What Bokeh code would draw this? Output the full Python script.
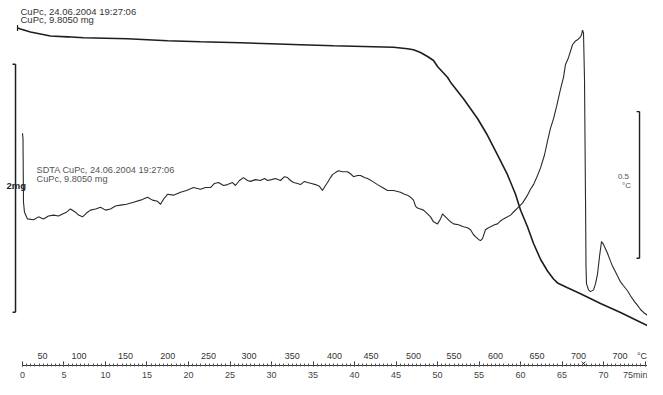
from bokeh.plotting import figure
from bokeh.models import Range1d, LinearAxis, SingleIntervalTicker, Label, ColumnDataSource
from bokeh.embed import file_html
from bokeh.resources import INLINE
from bokeh.core.properties import value

# ---------------- data ----------------
# TGA: time (min) vs sample mass (mg)
tga_time = [-0.60, -0.24, 0.96, 3.37, 5.42, 7.35, 12.65, 17.47, 21.45, 26.27, 29.88, 33.49,
            37.47, 42.29, 44.70, 46.39, 47.11, 47.95, 48.80, 49.52, 50.00, 51.20, 51.57,
            53.13, 54.82, 56.02, 57.23, 58.43, 59.40, 60.00, 60.84, 61.57, 62.41, 63.25,
            63.98, 64.46, 65.66, 67.23, 69.64, 72.05, 74.46, 76.87, 77.23]
tga_mass = [9.813, 9.805, 9.781, 9.749, 9.742, 9.734, 9.726, 9.710, 9.702, 9.694, 9.686, 9.678,
            9.670, 9.662, 9.658, 9.646, 9.638, 9.615, 9.583, 9.551, 9.503, 9.416, 9.376,
            9.242, 9.083, 8.948, 8.789, 8.630, 8.472, 8.345, 8.210, 8.075, 7.948, 7.853,
            7.789, 7.757, 7.718, 7.670, 7.591, 7.519, 7.440, 7.361, 7.345]

# SDTA: time (min) vs temperature difference (°C)
sdta_time = [0.00, 0.06, 0.12, 0.24, 0.60, 1.33, 1.93, 2.53, 3.13, 3.73, 4.34, 4.82, 5.30, 5.78,
             6.39, 6.75, 7.23, 7.71, 8.19, 8.80, 9.40, 10.00, 10.60, 11.20, 11.81, 12.53, 13.37,
             14.22, 15.06, 15.66, 16.27, 16.63, 16.99, 17.47, 18.19, 19.04, 19.76, 20.60, 21.45,
             22.05, 22.65, 23.13, 23.61, 24.22, 24.70, 25.30, 25.66, 26.14, 26.63, 27.11, 27.47,
             28.07, 28.67, 29.16, 29.52, 30.00, 30.48, 31.08, 31.57, 31.93, 32.29, 32.65, 33.13,
             33.49, 33.98, 34.34, 34.82, 35.30, 35.78, 36.14, 36.51, 36.75, 37.11, 37.35, 37.71,
             38.07, 38.55, 39.16, 39.52, 39.88, 40.36, 40.72, 41.20, 41.57, 42.17, 42.77, 43.37,
             43.98, 44.70, 45.54, 46.02, 46.39, 46.75, 47.11, 47.35, 47.59, 47.95, 48.31, 48.80,
             49.16, 49.52, 50.00, 50.36, 50.60, 50.96, 51.45, 51.93, 52.53, 53.13, 53.61, 53.98,
             54.34, 54.70, 54.94, 55.18, 55.42, 55.78, 56.14, 56.39, 56.87, 57.23, 57.59, 57.95,
             58.43, 58.80, 59.28, 59.76, 60.24, 60.84, 61.20, 61.57, 62.05, 62.41, 62.89, 63.25,
             63.61, 63.98, 64.34, 64.82, 65.18, 65.42, 65.78, 66.27, 66.63, 66.87, 67.23, 67.35,
             67.47, 67.59, 67.71, 67.83, 67.89, 67.95, 68.19, 68.43, 68.80, 69.04, 69.28, 69.52,
             69.76, 70.00, 70.48, 70.84, 71.08, 71.45, 71.69, 72.05, 72.41, 72.89, 73.25, 73.73,
             74.10, 74.46, 74.82, 75.30, 75.66, 76.14, 76.51, 76.87, 77.23]
sdta_dT = [0.292, 0.275, 0.057, 0.023, 0.000, -0.003, 0.007, 0.000, 0.010, 0.013, 0.010, 0.017,
           0.023, 0.034, 0.023, 0.013, 0.007, 0.020, 0.030, 0.034, 0.040, 0.030, 0.034, 0.044,
           0.047, 0.050, 0.057, 0.064, 0.074, 0.064, 0.060, 0.050, 0.067, 0.084, 0.081, 0.091,
           0.097, 0.107, 0.101, 0.107, 0.107, 0.121, 0.124, 0.114, 0.117, 0.124, 0.114, 0.131,
           0.141, 0.131, 0.128, 0.134, 0.131, 0.138, 0.131, 0.134, 0.138, 0.131, 0.144, 0.141,
           0.131, 0.124, 0.121, 0.117, 0.128, 0.124, 0.121, 0.117, 0.111, 0.097, 0.114, 0.124,
           0.141, 0.151, 0.158, 0.164, 0.161, 0.161, 0.154, 0.144, 0.148, 0.148, 0.141, 0.138,
           0.128, 0.117, 0.107, 0.097, 0.097, 0.091, 0.084, 0.081, 0.074, 0.064, 0.044, 0.037,
           0.034, 0.030, 0.017, 0.007, -0.010, -0.017, 0.000, 0.017, 0.007, -0.007, -0.017,
           -0.020, -0.027, -0.030, -0.037, -0.054, -0.064, -0.070, -0.074, -0.067, -0.037,
           -0.030, -0.027, -0.020, -0.017, -0.007, 0.000, 0.007, 0.013, 0.027, 0.040, 0.054,
           0.081, 0.101, 0.117, 0.148, 0.174, 0.218, 0.265, 0.309, 0.342, 0.383, 0.443, 0.483,
           0.527, 0.550, 0.594, 0.607, 0.611, 0.621, 0.628, 0.644, 0.634, 0.477, 0.074, -0.161,
           -0.221, -0.242, -0.248, -0.242, -0.221, -0.188, -0.128, -0.077, -0.087, -0.117,
           -0.144, -0.161, -0.181, -0.195, -0.215, -0.228, -0.245, -0.262, -0.282, -0.295,
           -0.309, -0.319, -0.329, -0.339, -0.356, -0.369, -0.379, -0.389]

# temperature scale printed above the time ruler
temp_labels = ["50", "100", "150", "200", "250", "300", "350", "400", "450", "500", "550",
               "600", "650", "700", "700", "°C"]
temp_label_time = [2.4, 6.8, 12.4, 17.5, 22.4, 27.3, 32.5, 37.6, 42.0, 47.1, 52.0, 57.0,
                   62.0, 67.0, 72.0, 75.25]

heating_end_time = 67.6          # "x" mark on the ruler
mass_scale_top, mass_scale_span = 9.52, 2.0      # "2mg" bar
dT_scale_top, dT_scale_span = 0.366, 0.5         # "0.5 °C" bar

FONT = "Liberation Sans"
INK = "#1e1e1e"

# ---------------- figure ----------------
p = figure(frame_width=647, frame_height=365,
           x_range=Range1d(-2.65, 75.30), y_range=Range1d(7.091, 10.035),
           x_axis_type=None, y_axis_type=None,
           output_backend="svg", toolbar_location=None, min_border=0)
p.extra_y_ranges = {"sdta": Range1d(-0.5, 0.745)}
p.outline_line_color = None
p.background_fill_color = "white"
p.border_fill_color = "white"

axis = LinearAxis(ticker=SingleIntervalTicker(interval=5, num_minor_ticks=10), bounds=(0, 75.3))
axis.axis_line_color = "#333333"
axis.axis_line_width = 1
axis.major_tick_line_color = "#333333"
axis.minor_tick_line_color = "#555555"
axis.major_tick_in = 4
axis.major_tick_out = 1
axis.minor_tick_in = 2
axis.minor_tick_out = 1
axis.major_label_standoff = 3
axis.major_label_text_font = FONT
axis.major_label_text_font_size = "9px"
axis.major_label_text_color = "#444444"
axis.major_label_overrides = {75: "75min"}
axis.major_label_text_align = "center"
p.add_layout(axis, "below")

# curves
p.line(tga_time, tga_mass, line_color=INK, line_width=1.6)
p.line(sdta_time, sdta_dT, y_range_name="sdta", line_color="#2a2a2a", line_width=1.1)

# TGA start marker
p.segment(x0=[tga_time[0]], y0=[tga_mass[0] + 0.025], x1=[tga_time[0]], y1=[tga_mass[0] - 0.025],
          line_color=INK, line_width=1.2)

# mass scale bar (2 mg)
mb_x = -0.84
p.segment(x0=[mb_x, mb_x - 0.36, mb_x - 0.36], y0=[mass_scale_top, mass_scale_top, mass_scale_top - mass_scale_span],
          x1=[mb_x, mb_x, mb_x], y1=[mass_scale_top - mass_scale_span, mass_scale_top, mass_scale_top - mass_scale_span],
          line_color=INK, line_width=1.5)

# SDTA scale bar (0.5 °C)
db_x = 74.34
p.segment(x0=[db_x, db_x - 0.36, db_x - 0.36], y0=[dT_scale_top, dT_scale_top, dT_scale_top - dT_scale_span],
          x1=[db_x, db_x, db_x], y1=[dT_scale_top - dT_scale_span, dT_scale_top, dT_scale_top - dT_scale_span],
          line_color=INK, line_width=1.4, y_range_name="sdta")

# end-of-heating mark on the ruler
p.scatter([heating_end_time], [7.108], marker="x", size=5, line_color="#333333", line_width=1)

# temperature labels
src = ColumnDataSource(dict(x=temp_label_time, y=[7.165] * len(temp_labels), t=temp_labels,
                            align=["center"] * (len(temp_labels) - 1) + ["right"]))
p.text(x="x", y="y", text="t", source=src, text_font=value(FONT), text_font_size=value("9px"),
       text_color="#333333", text_align="align", text_baseline="middle")

def lab(x, y, text, size="8.5px", color="#333333", style="normal", align="left"):
    p.add_layout(Label(x=x, y=y, text=text, text_font=FONT, text_font_size=size,
                       text_color=color, text_font_style=style, text_align=align,
                       text_baseline="middle"))

lab(-0.24, 9.945, "CuPc, 24.06.2004 19:27:06", size="9.5px")
lab(-0.24, 9.880, "CuPc, 9.8050 mg", size="9.5px")
lab(1.69, 8.670, "SDTA CuPc, 24.06.2004 19:27:06", size="9.2px", color="#555555")
lab(1.69, 8.599, "CuPc, 9.8050 mg", size="9.2px", color="#555555")
lab(-1.93, 8.543, "2mg", size="9.5px", color="#222222", style="bold")
lab(72.41, 8.615, "0.5", size="8px", color="#555555", align="center")
lab(72.77, 8.543, "°C", size="8px", color="#555555", align="center")

open("out.html", "w").write(file_html(p, INLINE))
